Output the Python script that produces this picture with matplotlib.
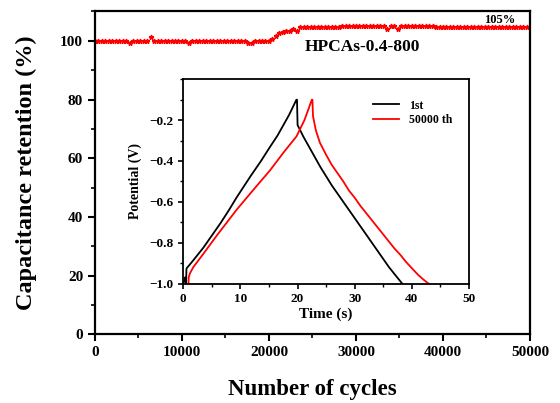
import numpy as np
import matplotlib
matplotlib.use('Agg')
import matplotlib.pyplot as plt
from matplotlib.ticker import MultipleLocator

plt.rcParams['font.family'] = ['Liberation Serif', 'DejaVu Serif']
plt.rcParams['font.weight'] = 'bold'

# capacitance retention, every 400 cycles
cycles = np.arange(0, 50001, 400)
retention = [
    100.0, 100.0, 100.0, 100.0, 100.0, 100.0, 100.0, 100.0, 100.0, 100.0,
    99.1, 100.0, 100.0, 100.0, 100.0, 100.0, 101.2, 100.0, 100.0, 100.0,
    100.0, 100.0, 100.0, 100.0, 100.0, 100.0, 100.0, 99.1, 100.0, 100.0,
    100.0, 100.0, 100.0, 100.0, 100.0, 100.0, 100.0, 100.0, 100.0, 100.0,
    100.0, 100.0, 100.0, 100.0, 99.2, 99.2, 100.0, 100.0, 100.0, 100.0,
    100.0, 100.6, 101.5, 102.6, 103.1, 103.2, 103.3, 104.2, 103.2, 104.6,
    104.6, 104.6, 104.6, 104.6, 104.6, 104.6, 104.6, 104.6, 104.6, 104.6,
    104.6, 105.2, 105.2, 105.2, 105.2, 105.2, 105.2, 105.2, 105.2, 105.2,
    105.2, 105.2, 105.2, 105.2, 104.2, 105.2, 105.2, 104.2, 105.2, 105.2,
    105.2, 105.2, 105.2, 105.2, 105.2, 105.2, 105.2, 105.2, 104.6, 104.6,
    104.6, 104.6, 104.6, 104.6, 104.6, 104.6, 104.6, 104.6, 104.6, 104.6,
    104.6, 104.6, 104.6, 104.6, 104.6, 104.6, 104.6, 104.6, 104.6, 104.6,
    104.6, 104.6, 104.6, 104.6, 104.6, 104.6,
]

# galvanostatic charge/discharge curves (inset)
t_first = [0.0, 0.3, 0.45, 0.5, 0.55, 0.6, 1.5, 2.5, 3.5, 5.0, 6.5, 8.0, 9.3, 10.7, 12.0, 13.6, 15.2,
           16.5, 17.5, 18.5, 19.8,
           19.9, 20.0, 21.0, 22.0, 23.0, 24.0, 25.0, 26.0, 27.0, 28.0, 29.0, 30.0, 31.0, 32.0,
           33.0, 34.0, 35.0, 36.0, 37.0, 38.3]
v_first = [-1.0, -0.97, -1.0, -0.99, -0.93, -0.925, -0.895, -0.86, -0.825, -0.765, -0.705, -0.64, -0.58,
           -0.52, -0.465, -0.40, -0.33, -0.275, -0.225, -0.175, -0.10,
           -0.10, -0.224, -0.28, -0.33, -0.38, -0.43, -0.475, -0.52, -0.56, -0.60, -0.64, -0.68, -0.72,
           -0.76, -0.80, -0.84, -0.88, -0.92, -0.955, -1.0]
t_50000 = [0.9, 0.95, 1.05, 1.17, 1.75, 3.5, 6.0, 9.3, 12.0, 15.2, 17.5, 19.8, 21.2, 22.5,
           22.6, 22.7, 23.2, 23.9, 25.0, 26.0, 27.0, 28.0, 29.0, 30.0, 31.0, 32.0, 33.0, 34.0,
           35.0, 36.0, 37.0, 38.0, 39.0, 40.0, 41.0, 42.0, 42.9]
v_50000 = [-1.0, -0.97, -0.96, -0.95, -0.92, -0.855, -0.76, -0.64, -0.55, -0.445, -0.36, -0.28, -0.20, -0.10,
           -0.10, -0.18, -0.25, -0.31, -0.37, -0.42, -0.46, -0.50, -0.545, -0.58, -0.62, -0.655, -0.69,
           -0.725, -0.76, -0.795, -0.83, -0.86, -0.895, -0.925, -0.955, -0.98, -1.0]

fig = plt.figure(figsize=(5.6, 4.03), dpi=100)
ax = fig.add_axes([0.1696, 0.170, 0.7768, 0.8015])
ax.plot(cycles, retention, ls='none', marker='*', ms=3.5, color='red', mec='red')
ax.set_xlim(0, 50000)
ax.set_ylim(0, 110)
ax.xaxis.set_major_locator(MultipleLocator(10000))
ax.xaxis.set_minor_locator(MultipleLocator(5000))
ax.yaxis.set_major_locator(MultipleLocator(20))
ax.yaxis.set_minor_locator(MultipleLocator(10))
ax.tick_params(which='major', direction='out', length=5, width=1.5, labelsize=11)
ax.tick_params(which='minor', direction='out', length=3, width=1.2)
for s in ax.spines.values():
    s.set_linewidth(1.6)
ax.set_xlabel('Number of cycles', fontsize=16.5, fontweight='bold', labelpad=14)
ax.set_ylabel('Capacitance retention (%)', fontsize=17.5, fontweight='bold', labelpad=17)
ax.text(30700, 97.9, 'HPCAs-0.4-800', fontsize=12.5, fontweight='bold', ha='center', va='center')
ax.text(46500, 107.2, '105%', fontsize=9, fontweight='bold', ha='center', va='center')

ins = fig.add_axes([0.3273, 0.2965, 0.5102, 0.5067])
ins.plot(t_first, v_first, color='black', lw=1.3, label='1st')
ins.plot(t_50000, v_50000, color='red', lw=1.3, label='50000 th')
ins.set_xlim(0, 50)
ins.set_ylim(-1.0, 0.0)
ins.xaxis.set_major_locator(MultipleLocator(10))
ins.xaxis.set_minor_locator(MultipleLocator(5))
ins.yaxis.set_minor_locator(MultipleLocator(0.1))
ins.set_yticks([-1.0, -0.8, -0.6, -0.4, -0.2])
ins.tick_params(which='major', direction='out', length=3.5, width=1.2, labelsize=9.5)
ins.tick_params(which='minor', direction='out', length=2, width=1)
for s in ins.spines.values():
    s.set_linewidth(1.3)
ins.set_xlabel('Time (s)', fontsize=11, fontweight='bold', labelpad=2)
ins.set_ylabel('Potential (V)', fontsize=10, fontweight='bold', labelpad=5)
ins.legend(loc='upper right', frameon=False, fontsize=8.5, handlelength=2.2,
           borderaxespad=0.8, labelspacing=0.2, bbox_to_anchor=(0.99, 0.97))

fig.savefig('out.png', dpi=100)
